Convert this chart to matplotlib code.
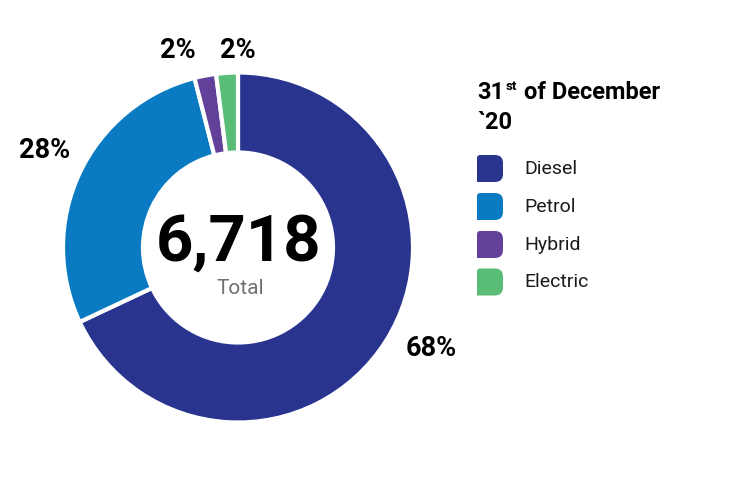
import matplotlib.pyplot as plt
import numpy as np
from matplotlib.path import Path
from matplotlib.patches import PathPatch

fuel_types = ['Diesel', 'Petrol', 'Hybrid', 'Electric']
shares = [68, 28, 2, 2]
share_labels = ['68%', '28%', '2%', '2%']
colors = ['#29348f', '#0a7bc2', '#63419b', '#59bd77']
total_text = '6,718'
legend_title = ['31', 'st', 'of December', '`20']

W, H = 750, 490


def leaf_patch(x, y, w, h, r_big, r_small, color):
    # square with rounded top-right / bottom-right corners (y is up)
    verts = [
        (x, y),
        (x + w - r_big, y),
        (x + w, y), (x + w, y + r_big),
        (x + w, y + h - r_big),
        (x + w, y + h), (x + w - r_big, y + h),
        (x + r_small, y + h),
        (x, y + h), (x, y + h - r_small),
        (x, y),
    ]
    codes = [Path.MOVETO, Path.LINETO, Path.CURVE3, Path.CURVE3, Path.LINETO,
             Path.CURVE3, Path.CURVE3, Path.LINETO, Path.CURVE3, Path.CURVE3,
             Path.CLOSEPOLY]
    return PathPatch(Path(verts, codes), facecolor=color, edgecolor='none')


fig = plt.figure(figsize=(7.5, 4.9), dpi=100)
ax = fig.add_axes([0, 0, 1, 1])

cx, cy = 238, H - 247.5
ax.pie(shares, colors=colors, startangle=90, counterclock=False,
       radius=175, center=(cx, cy),
       wedgeprops=dict(width=80, edgecolor='white', linewidth=3))

ax.set_xlim(0, W)
ax.set_ylim(0, H)
ax.set_aspect('equal')
ax.axis('off')

# percent labels
label_pos = [(431, 349), (45, 151), (178, 50), (238, 50)]
for (px, py), lab in zip(label_pos, share_labels):
    ax.text(px, H - py, lab, ha='center', va='center', fontsize=19.5,
            fontweight='bold', family='Roboto', color='black')

# center text
ax.text(239, H - 243, total_text, ha='center', va='center', fontsize=47,
        fontweight='bold', family='Roboto', color='black')
ax.text(240, H - 288, 'Total', ha='center', va='center', fontsize=15,
        family='Roboto', color='#707070')

# legend title: "31" + superscript "st" + "of December", then "`20"
t31 = ax.text(477, H - 99, legend_title[0], ha='left', va='baseline',
              fontsize=17, fontweight='bold', family='Roboto')
fig.canvas.draw()
renderer = fig.canvas.get_renderer()
x_end = ax.transData.inverted().transform(
    t31.get_window_extent(renderer).get_points())[1, 0]
tst = ax.text(x_end + 2, H - 90, legend_title[1], ha='left', va='baseline',
              fontsize=9.5, fontweight='bold', family='Roboto')
fig.canvas.draw()
x_end = ax.transData.inverted().transform(
    tst.get_window_extent(renderer).get_points())[1, 0]
ax.text(x_end + 7, H - 99, legend_title[2], ha='left', va='baseline',
        fontsize=17, fontweight='bold', family='Roboto')
ax.text(477, H - 129, legend_title[3], ha='left', va='baseline', fontsize=17,
        fontweight='bold', family='Roboto')

# legend items
row_y = [168.5, 206.5, 244.5, 282]
for name, col, ry in zip(fuel_types, colors, row_y):
    ax.add_patch(leaf_patch(477, H - ry - 13.5, 26, 27, 8, 3, col))
    ax.text(524, H - ry, name, ha='left', va='center', fontsize=14,
            family='Roboto', color='#1a1a1a')

fig.savefig('out.png', dpi=100)
